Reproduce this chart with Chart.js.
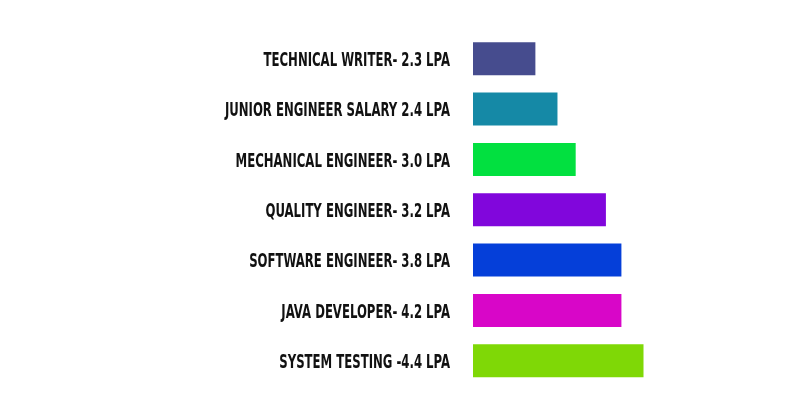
<!DOCTYPE html>
<html>
<head>
<meta charset="utf-8">
<script src="https://cdn.jsdelivr.net/npm/chart.js@4/dist/chart.umd.min.js"></script>
<style>
html,body{margin:0;padding:0;background:#fff;}
#wrap{width:800px;height:420px;}
</style>
</head>
<body>
<div id="wrap"><canvas id="c"></canvas></div>
<script>
const categories = [
  "TECHNICAL WRITER- 2.3 LPA",
  "JUNIOR ENGINEER SALARY 2.4 LPA",
  "MECHANICAL ENGINEER- 3.0 LPA",
  "QUALITY ENGINEER- 3.2 LPA",
  "SOFTWARE ENGINEER- 3.8 LPA",
  "JAVA DEVELOPER- 4.2 LPA",
  "SYSTEM TESTING -4.4 LPA"
];
// bar lengths as drawn in the picture (relative units, longest = 4.4)
const barValues = [1.61, 2.18, 2.65, 3.43, 3.83, 3.83, 4.40];
const barColors = ["#464c8e", "#1589a6", "#02e040", "#8106dc", "#053fd9", "#d806c8", "#7fd806"];

// condensed label drawing (the reference uses a very narrow display face)
const condensedLabels = {
  id: 'condensedLabels',
  afterDraw(chart) {
    const ys = chart.scales.y;
    const ctx = chart.ctx;
    ctx.save();
    ctx.font = "bold 20px 'DejaVu Sans Condensed', 'DejaVu Sans', sans-serif";
    ctx.fillStyle = '#111111';
    ctx.textAlign = 'right';
    ctx.textBaseline = 'middle';
    chart.data.labels.forEach((lab, i) => {
      ctx.save();
      ctx.translate(chart.chartArea.left - 23, ys.getPixelForValue(i) + 2);
      ctx.scale(0.65, 1);
      ctx.fillText(lab, 0, 0);
      ctx.restore();
    });
    ctx.restore();
  }
};

new Chart(document.getElementById('c'), {
  type: 'bar',
  data: {
    labels: categories,
    datasets: [{
      data: barValues,
      backgroundColor: barColors,
      borderWidth: 0,
      categoryPercentage: 1,
      barPercentage: 0.655
    }]
  },
  options: {
    indexAxis: 'y',
    responsive: true,
    maintainAspectRatio: false,
    animation: false,
    layout: { padding: { left: 0, right: 17, top: 33.5, bottom: 34 } },
    plugins: { legend: { display: false }, tooltip: { enabled: false } },
    scales: {
      x: {
        display: false,
        min: 0,
        max: 8
      },
      y: {
        grid: { display: false, drawTicks: false },
        border: { display: false },
        afterFit: (s) => { s.width = 473; },
        ticks: { display: false }
      }
    }
  },
  plugins: [condensedLabels]
});
</script>
</body>
</html>
